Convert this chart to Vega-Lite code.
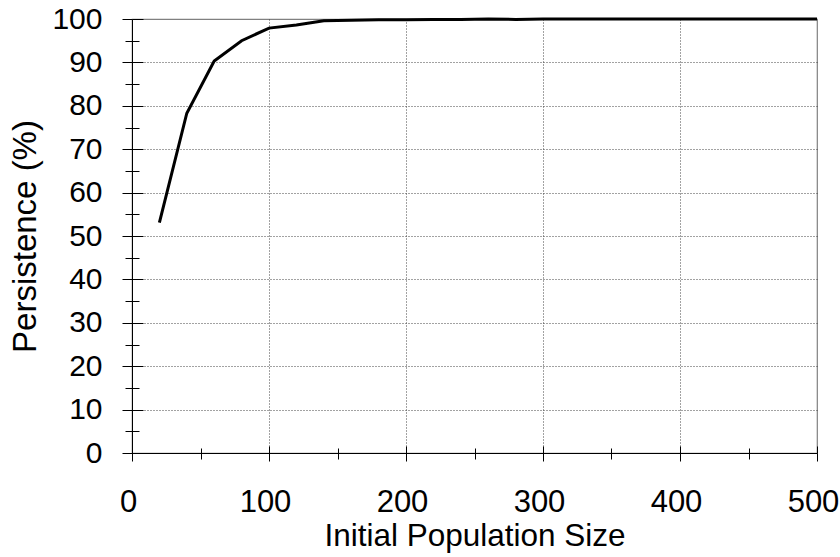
{
  "$schema": "https://vega.github.io/schema/vega-lite/v6.json",
  "width": 685,
  "height": 434,
  "autosize": "none",
  "padding": {"left": 132, "top": 19, "right": 23, "bottom": 104},
  "background": "white",
  "config": {
    "font": "Liberation Sans",
    "view": {"stroke": "#808080", "strokeWidth": 1.2}
  },
  "data": {
    "values": [
      {"size": 20, "persistence": 53.1},
      {"size": 40, "persistence": 78.3},
      {"size": 60, "persistence": 90.3},
      {"size": 80, "persistence": 95.0},
      {"size": 100, "persistence": 97.9},
      {"size": 120, "persistence": 98.6},
      {"size": 140, "persistence": 99.6},
      {"size": 160, "persistence": 99.7},
      {"size": 180, "persistence": 99.8},
      {"size": 200, "persistence": 99.8},
      {"size": 220, "persistence": 99.9},
      {"size": 240, "persistence": 99.9},
      {"size": 260, "persistence": 100},
      {"size": 280, "persistence": 99.9},
      {"size": 300, "persistence": 100},
      {"size": 320, "persistence": 100},
      {"size": 340, "persistence": 100},
      {"size": 360, "persistence": 100},
      {"size": 380, "persistence": 100},
      {"size": 400, "persistence": 100},
      {"size": 420, "persistence": 100},
      {"size": 440, "persistence": 100},
      {"size": 460, "persistence": 100},
      {"size": 480, "persistence": 100},
      {"size": 500, "persistence": 100}
    ]
  },
  "resolve": {"axis": {"x": "independent", "y": "independent"}},
  "layer": [
    {
      "mark": {"type": "line", "color": "black", "strokeWidth": 3, "clip": false},
      "encoding": {
        "x": {
          "field": "size",
          "type": "quantitative",
          "scale": {"domain": [0, 500], "nice": false, "zero": true},
          "axis": {
            "orient": "bottom",
            "title": "Initial Population Size",
            "values": [0, 50, 100, 150, 200, 250, 300, 350, 400, 450, 500],
            "labelExpr": "datum.value % 100 === 0 ? datum.label : ''",
            "format": "d",
            "labelFontSize": 31,
            "labelColor": "black",
            "labelPadding": 26,
            "labelOffset": -4,
            "labelFlush": false,
            "labelOverlap": false,
            "tickSize": {"condition": {"test": "datum.value % 100 === 0", "value": 8}, "value": 6},
            "tickColor": "black",
            "tickWidth": 1,
            "domainColor": "black",
            "domainWidth": 1,
            "grid": true,
            "gridColor": "#444444",
            "gridDash": [1, 2],
            "gridWidth": 1,
            "gridOpacity": {"condition": {"test": "datum.value % 100 === 0 && datum.value > 0 && datum.value < 500", "value": 1}, "value": 0},
            "titleFontSize": 31.5,
            "titleFontWeight": "normal",
            "titleColor": "black",
            "titleY": 67.5,
            "titleBaseline": "top"
          }
        },
        "y": {
          "field": "persistence",
          "type": "quantitative",
          "scale": {"domain": [0, 100], "nice": false},
          "axis": {
            "orient": "left",
            "title": "Persistence (%)",
            "values": [0, 5, 10, 15, 20, 25, 30, 35, 40, 45, 50, 55, 60, 65, 70, 75, 80, 85, 90, 95, 100],
            "labelExpr": "datum.value % 10 === 0 ? datum.label : ''",
            "format": "d",
            "labelFontSize": 30,
            "labelColor": "black",
            "labelPadding": 20,
            "labelFlush": false,
            "labelOverlap": false,
            "tickSize": {"condition": {"test": "datum.value % 10 === 0", "value": 10}, "value": 7},
            "tickColor": "black",
            "tickWidth": 1,
            "domainColor": "black",
            "domainWidth": 1,
            "grid": true,
            "gridColor": "#444444",
            "gridDash": [1, 2],
            "gridWidth": 1,
            "gridOpacity": {"condition": {"test": "datum.value % 10 === 0 && datum.value > 0 && datum.value < 100", "value": 1}, "value": 0},
            "titleFontSize": 33,
            "titleFontWeight": "normal",
            "titleColor": "black",
            "titleX": -97,
            "titleBaseline": "alphabetic"
          }
        }
      }
    },
    {
      "mark": {"type": "line", "opacity": 0},
      "encoding": {
        "x": {
          "field": "size",
          "type": "quantitative",
          "axis": {
            "orient": "bottom",
            "offset": 0,
            "title": null,
            "values": [0, 50, 100, 150, 200, 250, 300, 350, 400, 450, 500],
            "labels": false,
            "domain": false,
            "grid": false,
            "tickSize": {"condition": {"test": "datum.value % 100 === 0", "value": -7}, "value": -5},
            "tickColor": "black",
            "tickWidth": 1
          }
        },
        "y": {
          "field": "persistence",
          "type": "quantitative",
          "axis": {
            "orient": "left",
            "offset": 0,
            "title": null,
            "values": [0, 5, 10, 15, 20, 25, 30, 35, 40, 45, 50, 55, 60, 65, 70, 75, 80, 85, 90, 95, 100],
            "labels": false,
            "domain": false,
            "grid": false,
            "tickSize": {"condition": {"test": "datum.value % 10 === 0", "value": -11}, "value": -7},
            "tickColor": "black",
            "tickWidth": 1
          }
        }
      }
    }
  ]
}
